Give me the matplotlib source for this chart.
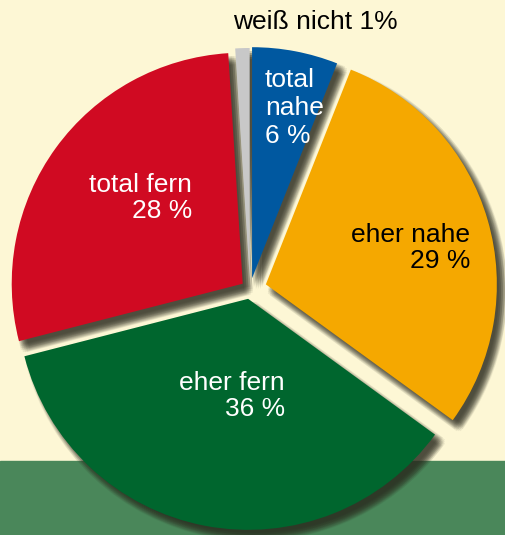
import matplotlib
matplotlib.use("Agg")
import matplotlib.pyplot as plt
import numpy as np

categories = ["total nahe", "eher nahe", "eher fern", "total fern", "weiß nicht"]
values = [6, 29, 36, 28, 1]
labels = ["total\nnahe\n6 %", "eher nahe\n29 %", "eher fern\n36 %", "total fern\n28 %", "weiß nicht 1%"]
colors = ["#0058a0", "#f5a800", "#00662e", "#d00a22", "#c8c8c8"]

W, H = 505, 535
fig = plt.figure(figsize=(W / 100, H / 100), dpi=100)
ax = fig.add_axes([0, 0, 1, 1])

cx, cy, R = 250, 535 - 289, 231
# explode offsets in data (pixel) units
explode = [11, 16.5, 10, 9, 10]

# background
ax.axhspan(74, H, color="#fdf7d5", zorder=0)
ax.axhspan(0, 74, color="#4a875a", zorder=0)

# blurred shadow: many faint copies with jittered offsets
offs = []
for dx in np.arange(-4, 5, 2):
    for dy in np.arange(-4, 5, 2):
        if dx * dx + dy * dy <= 20:
            offs.append((dx, dy))
alpha = 1 - (1 - 0.82) ** (1 / len(offs))
for dx, dy in offs:
    ax.pie(values, explode=explode, startangle=90, counterclock=False,
           colors=["#2e2e22"] * len(values), radius=R,
           center=(cx + 6 + dx, cy - 7 + dy),
           wedgeprops=dict(alpha=alpha, linewidth=0, zorder=1))

wedges, _ = ax.pie(values, explode=explode, startangle=90, counterclock=False,
                   colors=colors, radius=R, center=(cx, cy),
                   wedgeprops=dict(linewidth=0, zorder=2))

font = ["Liberation Sans", "DejaVu Sans"]
fs = 19
ax.text(265, 535 - 108, labels[0], ha="left", va="center", color="white",
        fontsize=fs, family=font, linespacing=1.2, zorder=3)
ax.text(470, 535 - 248, labels[1], ha="right", va="center", color="black",
        fontsize=fs, family=font, linespacing=1.15, multialignment="right", zorder=3)
ax.text(285, 535 - 396, labels[2], ha="right", va="center", color="white",
        fontsize=fs, family=font, linespacing=1.15, multialignment="right", zorder=3)
ax.text(192, 535 - 198, labels[3], ha="right", va="center", color="white",
        fontsize=fs, family=font, linespacing=1.15, multialignment="right", zorder=3)
ax.text(315, 535 - 22, labels[4], ha="center", va="center", color="black",
        fontsize=fs, family=font, zorder=3)

ax.set_xlim(0, W)
ax.set_ylim(0, H)
ax.set_aspect("auto")
ax.axis("off")
fig.savefig("out.png", dpi=100)
